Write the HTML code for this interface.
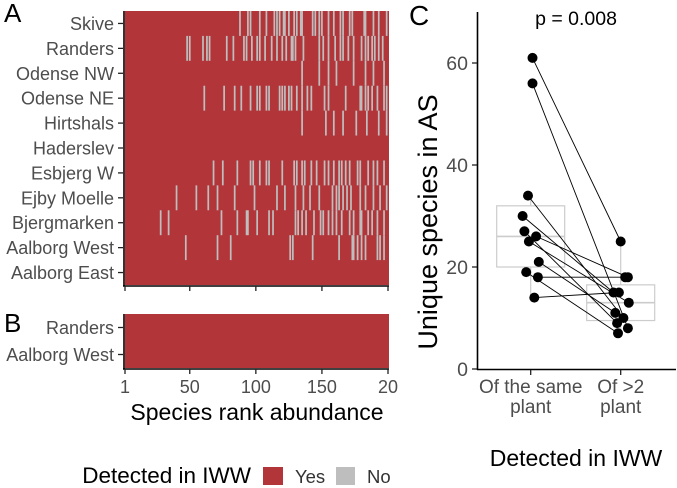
<!DOCTYPE html>
<html><head><meta charset="utf-8"><style>
body{margin:0;background:#fff}
svg{display:block;font-family:"Liberation Sans",sans-serif}
</style></head><body>
<svg id="fig" width="677" height="488" viewBox="0 0 677 488">
<g id="pA"></g>
<g id="pB"></g>
<g id="pC"></g>
<g>
<text x="251" y="483" text-anchor="end" font-size="22.5" fill="#000">Detected in IWW</text>
<rect x="263" y="467" width="20" height="18" fill="#B2353A"/>
<text x="295" y="483" font-size="18.5" fill="#333">Yes</text>
<rect x="336" y="467" width="19" height="18" fill="#BEBEBE"/>
<text x="367" y="483" font-size="18.5" fill="#333">No</text>
</g>
</svg>
<script>
const NS="http://www.w3.org/2000/svg";
const plantsA=["Skive","Randers","Odense NW","Odense NE","Hirtshals","Haderslev","Esbjerg W","Ejby Moelle","Bjergmarken","Aalborg West","Aalborg East"];
const notDetected=[
[88,94,96,103,108,114,116,118,121,122,125,129,131,134,135,143,145,148,150,155,159,164,166,171,173,182,183,189,193,199],
[48,50,60,63,65,78,83,91,93,97,101,103,107,112,116,120,123,127,128,130,136,148,151,155,160,164,166,170,174,180,183,185,188,190,193,196],
[135,148,155,161,174,183,189,197],
[61,76,84,89,96,101,103,108,110,118,120,122,125,127,131,135,139,142,152,155,168,179,180,183,185,188,192,197,199],
[135,153,159,166,176,184,193,199],
[],
[68,75,86,96,98,103,108,110,120,129,131,135,137,142,146,152,155,159,163,165,168,171,177,179,185,189,192,197],
[40,55,64,71,84,99,116,122,130,136,141,148,158,161,163,166,169,172,179,183,189,194,199],
[28,34,74,86,93,94,101,110,113,130,132,135,138,144,149,151,155,158,161,165,171,174,179,180,185,188,192,197],
[47,71,81,126,128,143,163,173,174,177,180,183,192,194,197],
[]
];
const plantsB=["Randers","Aalborg West"];
const notDetectedB=[[],[]];
const rankTicks=[1,50,100,150,200];
const rankTickLabels=["1","50","100","150","20"];
const nSpecies=200;

const groups=["Of the same plant","Of >2 plant"];
const sameVals=[61,56,34,30,27,26,25,21,19,18,14];
const otherVals=[25,8,10,15,9,18,13,11,7,18,15];
const sameJit=[0.02,0.02,-0.03,-0.09,-0.07,0.06,-0.02,0.09,-0.05,0.08,0.04];
const otherJit=[0,0.08,0.03,-0.08,-0.04,0.08,0.09,-0.06,-0.03,0.05,-0.02];
const yTicks=[0,20,40,60];
const boxSame={q1:20,med:26,q3:32,lo:14,hi:34};
const boxOther={q1:9.5,med:13,q3:16.5,lo:7,hi:25};

function el(tag,attrs,parent){const e=document.createElementNS(NS,tag);for(const k in attrs)e.setAttribute(k,attrs[k]);parent.appendChild(e);return e;}
const xr=r=>125+(r-1)*(388-125)/(nSpecies-1);
const cw=(388-125)/(nSpecies-1)+0.4;

function heat(g,plants,nd,top,bot,label,labelY){
  const rh=(bot-top)/plants.length;
  const bg=el("rect",{x:125,y:top,width:264,height:bot-top,fill:"#B2353A"},g);
  
  
  plants.forEach((p,i)=>{
    const y=top+i*rh;
    nd[i].forEach(r=>{
      const c=el("rect",{x:xr(r)-cw/2,y:y,width:cw,height:rh,fill:"#BEBEBE"},g);
      
      
    });
    const t=el("text",{x:114,y:y+rh/2+6.5,"text-anchor":"end","font-size":18,fill:"#4d4d4d"},g);
    t.textContent=p;
    
    
    const tk=el("line",{x1:118,x2:123,y1:y+rh/2,y2:y+rh/2,stroke:"#222","stroke-width":1.3},g);
    
    
  });
  const ax=el("line",{x1:124,x2:124,y1:top,y2:bot+1,stroke:"#000","stroke-width":1.6},g);
  
  
  const bx=el("line",{x1:123,x2:389,y1:bot+1,y2:bot+1,stroke:"#000","stroke-width":1.6},g);
  
  
  rankTicks.forEach(r=>{
    const l=el("line",{x1:xr(r),x2:xr(r),y1:bot+1,y2:bot+6,stroke:"#222","stroke-width":1.3},g);
    
    
  });
  const L=el("text",{x:4,y:labelY,"font-size":26,fill:"#000"},g);
  L.textContent=label;
  
  
}
const gA=document.getElementById("pA"),gB=document.getElementById("pB"),gC=document.getElementById("pC");
heat(gA,plantsA,notDetected,11,285,"A",22);
heat(gB,plantsB,notDetectedB,314,368,"B",332);
rankTicks.forEach((r,i)=>{
  const t=el("text",{x:xr(r),y:393,"text-anchor":"middle","font-size":18,fill:"#4d4d4d"},gB);
  t.textContent=rankTickLabels[i];
  
  
});
const xt=el("text",{x:257,y:420,"text-anchor":"middle","font-size":23,fill:"#000"},gB);
xt.textContent="Species rank abundance";



// panel C
const yC=v=>369-v*5.1;
const xC=i=>530.7+i*90;
const bw=68;
function box(b,i,name){
  const cx=xC(i);
  const w1=el("line",{x1:cx,x2:cx,y1:yC(b.hi),y2:yC(b.q3),stroke:"#ccc","stroke-width":1.2},gC);
  
  
  const w2=el("line",{x1:cx,x2:cx,y1:yC(b.q1),y2:yC(b.lo),stroke:"#ccc","stroke-width":1.2},gC);
  
  
  const r=el("rect",{x:cx-bw/2,y:yC(b.q3),width:bw,height:yC(b.q1)-yC(b.q3),fill:"none",stroke:"#ccc","stroke-width":1.2},gC);
  
  
  const m=el("line",{x1:cx-bw/2,x2:cx+bw/2,y1:yC(b.med),y2:yC(b.med),stroke:"#ccc","stroke-width":1.6},gC);
  
  
}
box(boxSame,0,"same-plant");
box(boxOther,1,"other-plant");
sameVals.forEach((v,i)=>{
  const l=el("line",{x1:xC(0+sameJit[i]),y1:yC(v),x2:xC(1+otherJit[i]),y2:yC(otherVals[i]),stroke:"#000","stroke-width":0.9},gC);
  
  
});
sameVals.forEach((v,i)=>{
  const c=el("circle",{cx:xC(0+sameJit[i]),cy:yC(v),r:5,fill:"#000"},gC);
  
  
  const d=el("circle",{cx:xC(1+otherJit[i]),cy:yC(otherVals[i]),r:5,fill:"#000"},gC);
  
  
});
const ya=el("line",{x1:477.5,x2:477.5,y1:12,y2:370,stroke:"#000","stroke-width":1.6},gC);


const xa=el("line",{x1:477,x2:676,y1:369.5,y2:369.5,stroke:"#000","stroke-width":1.6},gC);


yTicks.forEach(v=>{
  const l=el("line",{x1:472,x2:477,y1:yC(v),y2:yC(v),stroke:"#222","stroke-width":1.3},gC);
  
  
  const t=el("text",{x:468,y:yC(v)+7,"text-anchor":"end","font-size":19.5,fill:"#4d4d4d"},gC);
  t.textContent=v;
  
  
});
const lines=[["Of the same","plant"],["Of >2","plant"]];
groups.forEach((g,i)=>{
  const l=el("line",{x1:xC(i),x2:xC(i),y1:370,y2:375,stroke:"#222","stroke-width":1.3},gC);
  
  
  lines[i].forEach((s,j)=>{
    const t=el("text",{x:xC(i),y:393+j*20,"text-anchor":"middle","font-size":19,fill:"#4d4d4d"},gC);
    t.textContent=s;
    
    
  });
});
const yt=el("text",{x:0,y:0,"text-anchor":"middle","font-size":27,fill:"#000",transform:"translate(437,222) rotate(-90)"},gC);
yt.textContent="Unique species in AS";


const xtc=el("text",{x:576,y:466,"text-anchor":"middle","font-size":23,fill:"#000"},gC);
xtc.textContent="Detected in IWW";


const pv=el("text",{x:576,y:25,"text-anchor":"middle","font-size":19.5,fill:"#000"},gC);
pv.textContent="p = 0.008";


const lc=el("text",{x:409,y:25,"font-size":28,fill:"#000"},gC);
lc.textContent="C";


</script>
</body></html>
